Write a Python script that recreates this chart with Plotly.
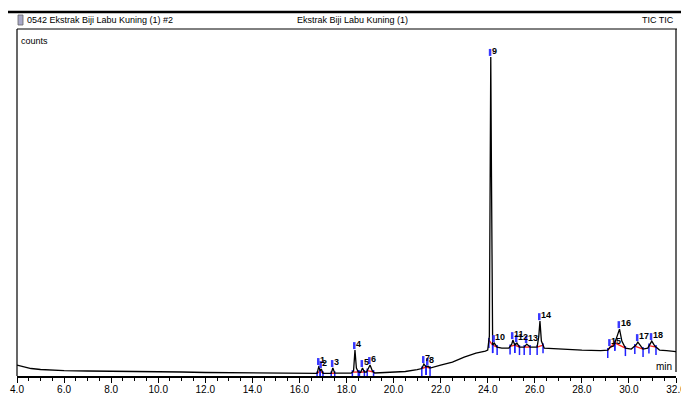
import numpy as np
import plotly.graph_objects as go

# ---- chromatogram (time in min, intensity in arbitrary counts units) ----
rt = [4.0, 4.3, 4.6, 5.0, 5.5, 6.0, 7.0, 8.0, 8.8, 9.5, 10.0, 11.0, 12.0, 13.0, 14.0, 15.0, 16.0,
      16.75, 16.83, 16.88, 16.93, 17.0, 17.35, 17.42, 17.5,
      18.2, 18.3, 18.36, 18.42, 18.5, 18.6, 18.68, 18.76, 18.85, 19.0, 19.1, 19.2,
      20.0, 20.5, 21.0, 21.2, 21.29, 21.38, 21.46, 21.55,
      22.0, 22.5, 23.0, 23.5, 23.9, 24.0, 24.07, 24.1, 24.13, 24.16, 24.18, 24.21, 24.28, 24.4, 24.6,
      24.9, 25.02, 25.07, 25.15, 25.24, 25.35, 25.55, 25.66, 25.8, 26.1, 26.17, 26.22, 26.28, 26.4,
      27.0, 28.0, 28.8, 29.1, 29.2, 29.35, 29.5, 29.6, 29.7, 29.85, 30.1, 30.3, 30.38, 30.5, 30.6,
      30.8, 30.9, 30.97, 31.1, 31.3, 31.6, 32.0]
counts = [11, 9, 7.5, 6.5, 5.8, 5.3, 5, 4.8, 5, 4.8, 4.5, 4, 3.5, 3.2, 3, 2.8, 2.6,
          2.6, 10, 5, 7, 2.7, 2.7, 8, 2.8,
          2.8, 5, 26, 8, 4, 3.5, 8, 4, 4, 11, 5, 3,
          3.5, 4.5, 6.5, 7.5, 12, 9, 10, 8,
          11, 14, 19, 23, 25, 26, 40, 200, 320, 200, 110, 31, 33, 29, 28,
          28, 32, 36, 31, 33, 29, 29, 32, 29, 29, 40, 55, 35, 28,
          27, 26, 25.5, 26, 29, 30, 40, 47, 35, 28, 27, 31, 34, 30, 27,
          28, 33, 35, 30, 26, 25.5, 24.5]

# ---- integrated peaks ----
peak_id = [str(i) for i in range(1, 19)]
peak_rt = [16.83, 16.93, 17.42, 18.36, 18.68, 19.0, 21.29, 21.46, 24.13,
           24.28, 25.07, 25.24, 25.66, 26.22, 29.2, 29.6, 30.38, 30.97]
peak_start = [16.75, 16.88, 17.35, 18.25, 18.55, 18.88, 21.2, 21.38, 24.05,
              24.21, 24.95, 25.15, 25.55, 26.1, 29.1, 29.4, 30.25, 30.85]
peak_end = [16.88, 17.0, 17.5, 18.5, 18.76, 19.15, 21.38, 21.55, 24.21,
            24.4, 25.15, 25.35, 25.8, 26.35, 29.4, 29.85, 30.6, 31.15]

xtick_vals = list(range(4, 33, 2))
xtick_text = [f"{v}.0" for v in xtick_vals]

FONT = "Liberation Sans, Arial, sans-serif"

fig = go.Figure()

# baselines (red) and boundary ticks (blue)
rx, ry, bx, by = [], [], [], []
for s, e in zip(peak_start, peak_end):
    ys = float(np.interp(s, rt, counts))
    ye = float(np.interp(e, rt, counts))
    rx += [s, e, None]
    ry += [ys, ye, None]
    bx += [s, s, None, e, e, None]
    by += [ys + 2, ys - 8, None, ye + 2, ye - 8, None]
fig.add_trace(go.Scatter(x=rx, y=ry, mode="lines", line=dict(color="#ff2020", width=1.4),
                         hoverinfo="skip"))
fig.add_trace(go.Scatter(x=bx, y=by, mode="lines", line=dict(color="#2020ff", width=1.5),
                         hoverinfo="skip"))

# chromatogram
fig.add_trace(go.Scatter(x=rt, y=counts, mode="lines", line=dict(color="black", width=1.3),
                         hoverinfo="skip"))

# peak label markers
mx, my = [], []
for t in peak_rt:
    h = float(np.interp(t, rt, counts))
    mx += [t - 0.03, t - 0.03, None]
    my += [h + 1, h + 8, None]
fig.add_trace(go.Scatter(x=mx, y=my, mode="lines", line=dict(color="#3a3aff", width=2.5),
                         hoverinfo="skip"))

for pid, t in zip(peak_id, peak_rt):
    h = float(np.interp(t, rt, counts))
    fig.add_annotation(x=t, y=h, text=f"<b>{pid}</b>", showarrow=False, xanchor="left",
                       yanchor="bottom", xshift=-1, yshift=-1,
                       font=dict(family=FONT, size=9, color="black"))

# header texts
fig.add_annotation(x=0, xref="paper", y=1, yref="paper", yanchor="middle", yshift=9, xshift=8,
                   xanchor="left", showarrow=False,
                   text="0542 Ekstrak Biji Labu Kuning (1) #2",
                   font=dict(family=FONT, size=9, color="black"))
fig.add_annotation(x=0.509, xref="paper", y=1, yref="paper", yanchor="middle", yshift=9,
                   xanchor="center", showarrow=False,
                   text="Ekstrak Biji Labu Kuning (1)",
                   font=dict(family=FONT, size=9, color="black"))
fig.add_annotation(x=1, xref="paper", y=1, yref="paper", yanchor="middle", yshift=9,
                   xanchor="right", showarrow=False, text="TIC TIC",
                   font=dict(family=FONT, size=9, color="black"))
fig.add_annotation(x=0, xref="paper", y=1, yref="paper", yanchor="top", yshift=-5, xshift=2,
                   xanchor="left", showarrow=False, text="counts",
                   font=dict(family=FONT, size=9, color="black"))
fig.add_annotation(x=1, xref="paper", y=0, yref="paper", yanchor="bottom", yshift=2, xshift=-2,
                   xanchor="right", showarrow=False, text="min",
                   font=dict(family=FONT, size=10, color="black"))

W, H = 681, 394
L, R, T, B = 17, 5, 29, 18
pw, ph = W - L - R, H - T - B


def px(x):
    return (x - L) / pw


def py(y):
    return (H - B - y) / ph


P = dict(xref="paper", yref="paper")
shapes = [
    dict(type="line", x0=px(8), x1=px(681), y0=py(12), y1=py(12),
         line=dict(color="black", width=2.5), **P),
    dict(type="line", x0=0, x1=px(677), y0=1, y1=1, line=dict(color="black", width=1), **P),
    dict(type="line", x0=0, x1=0, y0=0, y1=1, line=dict(color="black", width=1.2), **P),
    dict(type="line", x0=px(676), x1=px(676), y0=py(372), y1=1,
         line=dict(color="black", width=1.2), **P),
    dict(type="rect", x0=px(18), x1=px(23), y0=py(25), y1=py(15),
         line=dict(color="#666", width=0.8), fillcolor="#a8a8c8", **P),
]
fig.update_layout(shapes=shapes)

fig.update_layout(
    width=W, height=H, margin=dict(l=L, r=R, t=T, b=B),
    template="none", plot_bgcolor="white", paper_bgcolor="white", showlegend=False,
    xaxis=dict(range=[4, 32], tickvals=xtick_vals, ticktext=xtick_text, ticks="outside",
               ticklen=5, tickwidth=1.2, tickcolor="black", showline=True, linewidth=2,
               linecolor="black", showgrid=False, zeroline=False, automargin=False,
               ticklabeloverflow="allow", ticklabelstandoff=-2,
               tickfont=dict(family=FONT, size=10, color="black"),
               minor=dict(dtick=0.5, ticks="outside", ticklen=3, tickcolor="black",
                          showgrid=False)),
    yaxis=dict(range=[0, 348], visible=False, automargin=False, fixedrange=True),
)

fig.write_html("out.html", config={"displayModeBar": False},
               post_script="document.body.style.margin='0';document.body.style.padding='0';")
